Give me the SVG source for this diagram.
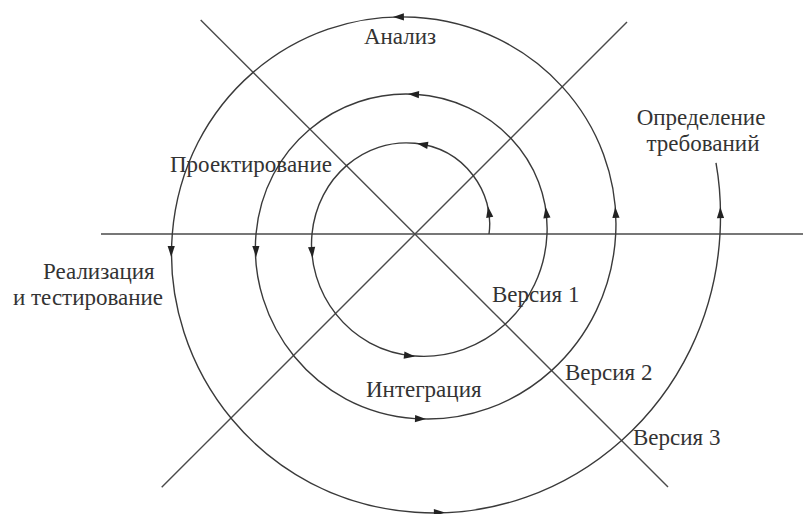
<svg xmlns="http://www.w3.org/2000/svg" xmlns:xlink="http://www.w3.org/1999/xlink" width="803" height="514" viewBox="0 0 803 514">
  <style>
    .ax { stroke: #4a4a4a; stroke-width: 1.4; fill: none; }
    .sp { stroke: #3a3a3a; stroke-width: 1.4; fill: none; }
    .lbl { font-family: "Liberation Serif", "Times New Roman", serif; font-size: 23px; fill: #333; }
    .ah { fill: #222; }
  </style>
  <defs>
    <path id="arrow" class="ah" d="M5,0 L-6,-3.6 L-6,3.6 Z"/>
  </defs>
  <rect width="803" height="514" fill="#fff"/>

  <g id="axes">
    <line class="ax" x1="101" y1="234" x2="803" y2="234"/>
    <line class="ax" x1="200.7" y1="20" x2="668" y2="487"/>
    <line class="ax" x1="627" y1="22" x2="161.7" y2="487.3"/>
  </g>

  <g id="connectors">
    <path id="spiral" class="sp" d="M489,234
      C494.87,193.13 465.09,148.40 415,143.3
      C364.91,138.20 317.50,177.11 312,234
      C306.50,290.89 347.62,350.90 415,356
      C482.38,361.10 543.89,306.90 547,234
      C550.11,161.10 492.15,99.04 415,94.3
      C337.85,89.56 263.89,146.18 256,234
      C248.11,321.82 313.05,411.27 415,418.6
      C516.95,425.93 610.06,344.85 615.7,234
      C621.34,123.15 534.68,24.68 415,17.3
      C295.32,9.92 183.13,99.96 172.3,234
      C161.47,368.04 261.30,501.35 415,512.3
      C568.70,523.25 710.61,402.45 720,234
      C721.3,210.4 720.2,186.5 716,162.9"/>
    <use xlink:href="#arrow" href="#arrow" transform="translate(488.8,211.4) rotate(-99)"/>
    <use xlink:href="#arrow" href="#arrow" transform="translate(421.9,144.3) rotate(-170)"/>
    <use xlink:href="#arrow" href="#arrow" transform="translate(312.1,253) rotate(85)"/>
    <use xlink:href="#arrow" href="#arrow" transform="translate(410,355.9) rotate(6.7)"/>
    <use xlink:href="#arrow" href="#arrow" transform="translate(546.2,212) rotate(-97)"/>
    <use xlink:href="#arrow" href="#arrow" transform="translate(413,94.3) rotate(-177)"/>
    <use xlink:href="#arrow" href="#arrow" transform="translate(256,252) rotate(88.6)"/>
    <use xlink:href="#arrow" href="#arrow" transform="translate(421,418.9) rotate(2.2)"/>
    <use xlink:href="#arrow" href="#arrow" transform="translate(615.6,211.9) rotate(-93.4)"/>
    <use xlink:href="#arrow" href="#arrow" transform="translate(397.9,17) rotate(179)"/>
    <use xlink:href="#arrow" href="#arrow" transform="translate(171.2,252) rotate(90.4)"/>
    <use xlink:href="#arrow" href="#arrow" transform="translate(439.9,512.6) rotate(-1)"/>
    <use xlink:href="#arrow" href="#arrow" transform="translate(720.4,212.1) rotate(-91)"/>
  </g>

  <g id="analysis"><text class="lbl" x="400" y="44" text-anchor="middle">Анализ</text></g>
  <g id="design"><text class="lbl" x="170" y="172">Проектирование</text></g>
  <g id="requirements">
    <text class="lbl" x="701" y="125" text-anchor="middle">Определение</text>
    <text class="lbl" x="703" y="151" text-anchor="middle">требований</text>
  </g>
  <g id="implementation">
    <text class="lbl" x="43" y="279">Реализация</text>
    <text class="lbl" x="13" y="305">и тестирование</text>
  </g>
  <g id="integration"><text class="lbl" x="366" y="397">Интеграция</text></g>
  <g id="version1"><text class="lbl" x="492" y="302">Версия 1</text></g>
  <g id="version2"><text class="lbl" x="565" y="380">Версия 2</text></g>
  <g id="version3"><text class="lbl" x="633" y="445">Версия 3</text></g>
</svg>
